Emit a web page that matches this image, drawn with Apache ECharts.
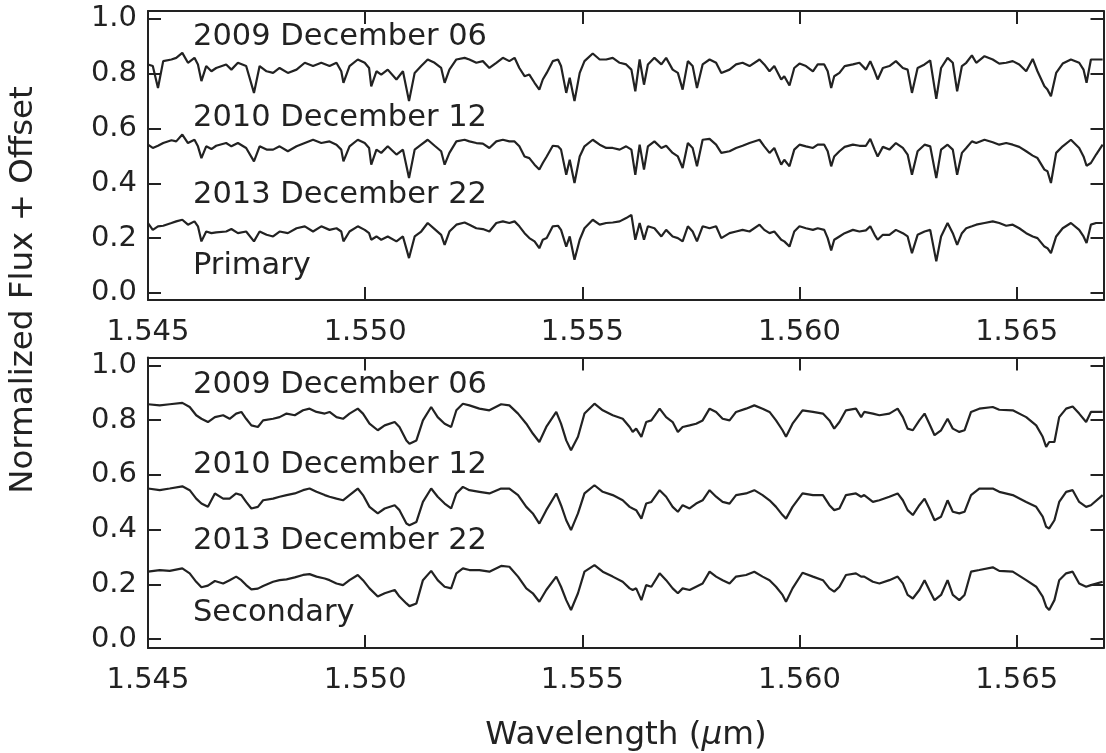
<!DOCTYPE html>
<html>
<head>
<meta charset="utf-8">
<title>spectra</title>
<script src="https://cdn.jsdelivr.net/npm/echarts@6/dist/echarts.min.js"></script>
<style>html,body{margin:0;padding:0;background:#fff;}</style>
</head>
<body>
<div id="main" style="width:1106px;height:753px;"></div>
<script>
// wavelength samples (micron), top panel (primary)
var topWave = [1.54500,1.54511,1.54523,1.54535,1.54554,1.54565,1.54579,1.54592,1.54607,1.54615,
1.54623,1.54634,1.54646,1.54657,1.54680,1.54692,1.54707,1.54726,1.54744,1.54757,
1.54773,1.54788,1.54803,1.54822,1.54842,1.54861,1.54880,1.54899,1.54918,1.54934,
1.54945,1.54950,1.54964,1.54983,1.54999,1.55009,1.55014,1.55026,1.55037,1.55052,
1.55072,1.55087,1.55101,1.55114,1.55129,1.55144,1.55160,1.55175,1.55183,1.55194,
1.55210,1.55229,1.55240,1.55256,1.55271,1.55286,1.55302,1.55317,1.55332,1.55344,
1.55355,1.55367,1.55378,1.55390,1.55401,1.55409,1.55418,1.55432,1.55444,1.55451,
1.55463,1.55471,1.55482,1.55494,1.55505,1.55524,1.55540,1.55555,1.55570,1.55586,
1.55601,1.55613,1.55622,1.55632,1.55642,1.55651,1.55666,1.55682,1.55693,1.55708,
1.55720,1.55731,1.55743,1.55754,1.55764,1.55777,1.55793,1.55808,1.55820,1.55839,
1.55854,1.55869,1.55885,1.55908,1.55919,1.55931,1.55942,1.55958,1.55965,1.55977,
1.55988,1.56000,1.56015,1.56031,1.56042,1.56057,1.56065,1.56073,1.56080,1.56092,
1.56104,1.56123,1.56138,1.56153,1.56163,1.56173,1.56180,1.56192,1.56207,1.56222,
1.56238,1.56249,1.56259,1.56272,1.56288,1.56301,1.56315,1.56326,1.56341,1.56353,
1.56363,1.56374,1.56384,1.56397,1.56407,1.56426,1.56445,1.56460,1.56476,1.56491,
1.56506,1.56522,1.56537,1.56548,1.56564,1.56571,1.56579,1.56591,1.56606,1.56625,
1.56644,1.56654,1.56661,1.56671,1.56683,1.56698];

var prim2009 = [.834,.828,.748,.846,.852,.858,.876,.840,.858,.834,
.773,.828,.809,.821,.834,.815,.840,.828,.730,.828,
.809,.803,.821,.803,.815,.840,.828,.840,.828,.840,
.809,.767,.828,.852,.840,.821,.754,.809,.797,.815,
.779,.809,.700,.803,.828,.852,.840,.821,.767,.815,
.852,.858,.852,.840,.846,.821,.840,.858,.846,.858,
.821,.791,.797,.767,.742,.779,.803,.846,.852,.828,
.730,.785,.700,.803,.846,.874,.852,.852,.858,.840,
.834,.815,.736,.852,.760,.834,.858,.834,.858,.815,
.803,.742,.846,.828,.748,.834,.852,.840,.803,.815,
.834,.840,.828,.852,.834,.809,.828,.779,.791,.757,
.821,.837,.828,.809,.834,.834,.809,.748,.791,.803,
.828,.834,.840,.815,.846,.809,.779,.821,.828,.846,
.821,.815,.730,.821,.834,.849,.708,.821,.858,.840,
.736,.828,.840,.867,.840,.864,.852,.837,.840,.846,
.834,.809,.854,.809,.754,.742,.718,.803,.837,.852,
.840,.815,.767,.852,.852,.852];

var prim2010 = [.541,.529,.537,.547,.557,.553,.578,.547,.559,.535,
.492,.535,.525,.537,.547,.535,.547,.529,.480,.535,
.523,.523,.535,.517,.535,.547,.559,.547,.553,.541,
.523,.480,.535,.559,.547,.529,.468,.523,.511,.535,
.505,.523,.419,.523,.541,.559,.537,.517,.468,.511,
.553,.559,.553,.547,.545,.529,.553,.559,.553,.553,
.535,.498,.492,.468,.450,.474,.498,.537,.535,.523,
.431,.486,.401,.498,.535,.559,.541,.529,.529,.523,
.535,.523,.431,.541,.450,.535,.553,.529,.537,.511,
.498,.456,.547,.529,.462,.559,.562,.541,.511,.517,
.529,.537,.547,.559,.535,.511,.529,.468,.486,.462,
.523,.541,.535,.529,.541,.541,.517,.462,.498,.517,
.533,.541,.537,.537,.562,.523,.498,.533,.523,.547,
.529,.505,.431,.517,.541,.535,.419,.523,.541,.523,
.431,.511,.529,.553,.547,.559,.550,.541,.547,.541,
.533,.517,.501,.492,.450,.444,.401,.511,.535,.559,
.529,.498,.464,.474,.505,.541];

var prim2013 = [.255,.230,.243,.245,.255,.261,.267,.249,.261,.243,
.188,.224,.218,.221,.224,.233,.218,.224,.188,.224,
.212,.206,.224,.218,.236,.243,.224,.243,.230,.236,
.224,.188,.224,.243,.230,.218,.194,.206,.194,.206,
.188,.206,.127,.206,.224,.255,.233,.212,.175,.224,
.249,.257,.249,.236,.233,.224,.255,.261,.255,.261,
.243,.218,.200,.188,.163,.194,.200,.243,.245,.230,
.169,.206,.121,.194,.236,.267,.249,.255,.257,.261,
.273,.285,.194,.255,.194,.243,.236,.206,.230,.206,
.200,.188,.243,.224,.188,.243,.236,.243,.200,.218,
.224,.230,.224,.249,.230,.218,.224,.194,.188,.169,
.224,.243,.236,.230,.236,.230,.200,.155,.194,.206,
.218,.230,.224,.228,.243,.212,.194,.212,.212,.230,
.218,.206,.145,.212,.224,.230,.115,.206,.255,.218,
.175,.218,.236,.243,.249,.255,.261,.255,.245,.249,
.236,.218,.206,.200,.169,.163,.145,.206,.236,.255,
.230,.206,.182,.249,.255,.255];

// wavelength samples (micron), bottom panel (secondary)
var botWave = [1.54500,1.54527,1.54550,1.54579,1.54596,1.54611,1.54623,1.54638,1.54654,1.54673,
1.54688,1.54703,1.54715,1.54726,1.54738,1.54753,1.54765,1.54788,1.54803,1.54819,
1.54838,1.54857,1.54872,1.54888,1.54907,1.54918,1.54934,1.54949,1.54964,1.54983,
1.54995,1.55010,1.55029,1.55045,1.55068,1.55079,1.55095,1.55102,1.55118,1.55133,
1.55152,1.55167,1.55183,1.55198,1.55210,1.55225,1.55240,
1.55263,1.55286,1.55313,1.55332,1.55352,1.55371,1.55386,1.55401,1.55417,1.55440,
1.55451,1.55463,1.55474,1.55490,1.55505,1.55528,1.55547,1.55570,1.55593,1.55609,
1.55616,1.55624,1.55636,1.55647,1.55659,1.55678,1.55693,1.55708,1.55720,1.55731,
1.55747,1.55762,1.55777,1.55793,1.55808,1.55823,1.55839,1.55854,1.55877,1.55896,
1.55915,1.55931,1.55946,1.55961,
1.55969,1.55984,1.56007,1.56031,1.56054,1.56069,1.56080,1.56092,1.56107,1.56130,
1.56142,1.56149,1.56169,1.56184,1.56207,1.56226,1.56238,1.56249,1.56261,1.56276,
1.56288,1.56299,1.56311,1.56326,1.56341,1.56353,1.56368,1.56380,1.56395,1.56414,
1.56445,1.56460,1.56491,1.56522,1.56545,1.56560,1.56568,1.56575,1.56587,1.56598,
1.56614,1.56629,1.56644,1.56660,1.56671,1.56698];

var sec2009 = [.858,.854,.858,.863,.848,.818,.805,.793,.811,.818,
.805,.824,.830,.805,.781,.775,.799,.805,.811,.824,
.818,.836,.842,.830,.824,.830,.811,.805,.824,.842,
.824,.787,.763,.781,.793,.775,.726,.714,.726,.799,
.848,.811,.787,.775,.836,.860,.854,
.842,.836,.858,.854,.824,.787,.751,.720,.775,.830,
.787,.726,.690,.739,.824,.860,.836,.818,.805,.775,
.757,.769,.739,.793,.799,.842,.811,.793,.757,.775,
.781,.787,.799,.842,.830,.805,.799,.830,.842,.854,
.842,.830,.799,.763,
.739,.787,.836,.830,.824,.799,.769,.793,.836,.842,
.811,.830,.824,.818,.824,.842,.811,.769,.763,.799,
.824,.787,.745,.763,.805,.769,.757,.763,.830,.842,
.848,.838,.836,.811,.781,.739,.702,.720,.720,.811,
.842,.850,.824,.793,.830,.830];

var sec2010 = [.550,.544,.550,.558,.544,.513,.495,.483,.532,.513,
.513,.532,.526,.501,.477,.483,.507,.513,.520,.526,
.532,.544,.550,.538,.526,.520,.513,.507,.526,.550,
.526,.483,.459,.477,.489,.471,.422,.416,.428,.501,
.550,.520,.495,.477,.532,.556,.544,
.538,.532,.550,.550,.526,.483,.459,.422,.471,.532,
.489,.434,.398,.459,.532,.562,.538,.526,.507,.483,
.477,.471,.440,.495,.501,.544,.520,.483,.465,.489,
.477,.495,.507,.544,.520,.501,.495,.526,.532,.544,
.526,.507,.483,.453,
.440,.483,.532,.526,.526,.489,.471,.477,.526,.532,
.520,.526,.501,.507,.520,.532,.507,.471,.453,.489,
.513,.477,.434,.447,.507,.465,.459,.465,.526,.550,
.550,.538,.526,.501,.483,.447,.410,.404,.434,.501,
.538,.544,.501,.483,.489,.526];

var sec2013 = [.246,.252,.249,.258,.240,.209,.189,.195,.212,.203,
.215,.228,.215,.197,.181,.184,.194,.209,.215,.218,
.225,.234,.237,.228,.221,.215,.203,.197,.215,.234,
.215,.185,.155,.167,.179,.155,.130,.120,.130,.215,
.249,.215,.191,.185,.240,.258,.252,
.252,.246,.267,.264,.228,.185,.167,.136,.179,.228,
.191,.142,.106,.167,.246,.270,.246,.228,.209,.185,
.179,.185,.142,.197,.191,.240,.215,.185,.167,.185,
.179,.191,.203,.246,.228,.215,.203,.228,.234,.246,
.228,.215,.191,.161,
.136,.185,.242,.228,.215,.185,.173,.191,.234,.240,
.228,.228,.209,.203,.215,.228,.203,.161,.148,.179,
.215,.179,.142,.161,.215,.161,.142,.161,.246,.252,
.262,.249,.246,.215,.191,.155,.118,.106,.142,.215,
.240,.246,.203,.191,.197,.209];

var xTicks = [1.545, 1.550, 1.555, 1.560, 1.565];
var yTicks = [0, 0.2, 0.4, 0.6, 0.8, 1.0];

var ink = '#222';
var font = 'DejaVu Sans';

function pairs(wave, flux) {
	return wave.map(function (w, i) { return [w, flux[i]]; });
}

function xAxisFor(g, pos) {
	return {
		type: 'value', gridIndex: g, position: pos,
		min: 1.545, max: 1.567,
		axisLine: { show: true, onZero: false, lineStyle: { color: ink, width: 2 } },
		axisTick: { show: true, inside: true, length: 13, customValues: xTicks, lineStyle: { color: ink, width: 2 } },
		axisLabel: {
			show: pos === 'bottom', customValues: xTicks, margin: 18,
			fontSize: 29, fontFamily: font, color: ink,
			formatter: function (v) { return v.toFixed(3); }
		},
		splitLine: { show: false }
	};
}

function yAxisFor(g, pos, lo, hi) {
	return {
		type: 'value', gridIndex: g, position: pos,
		min: lo, max: hi,
		axisLine: { show: true, onZero: false, lineStyle: { color: ink, width: 2 } },
		axisTick: { show: true, inside: true, length: 13, customValues: yTicks, lineStyle: { color: ink, width: 2 } },
		axisLabel: {
			show: pos === 'left', customValues: yTicks, margin: 11,
			fontSize: 29, fontFamily: font, color: ink,
			formatter: function (v) { return v.toFixed(1); }
		},
		splitLine: { show: false }
	};
}

function spec(name, g, wave, flux) {
	return {
		name: name, type: 'line', xAxisIndex: g * 2, yAxisIndex: g * 2,
		data: pairs(wave, flux), showSymbol: false, symbol: 'none',
		lineStyle: { color: ink, width: 2.2 }, silent: true, clip: true
	};
}

function label(text, x, y) {
	return {
		type: 'text', x: x, y: y,
		style: { text: text, fontSize: 30.5, fontFamily: font, fill: ink, align: 'left', verticalAlign: 'middle' }
	};
}

var chart = echarts.init(document.getElementById('main'));
chart.setOption({
	animation: false,
	backgroundColor: '#fff',
	grid: [
		{ left: 148, right: 2.5, top: 11, height: 289 },
		{ left: 148, right: 2.5, top: 357.5, height: 290.5 }
	],
	xAxis: [xAxisFor(0, 'bottom'), xAxisFor(0, 'top'), xAxisFor(1, 'bottom'), xAxisFor(1, 'top')],
	yAxis: [yAxisFor(0, 'left', -0.026, 1.029), yAxisFor(0, 'right', -0.026, 1.029),
		yAxisFor(1, 'left', -0.033, 1.029), yAxisFor(1, 'right', -0.033, 1.029)],
	series: [
		spec('P 2009', 0, topWave, prim2009),
		spec('P 2010', 0, topWave, prim2010),
		spec('P 2013', 0, topWave, prim2013),
		spec('S 2009', 1, botWave, sec2009),
		spec('S 2010', 1, botWave, sec2010),
		spec('S 2013', 1, botWave, sec2013)
	],
	graphic: [
		label('2009 December 06', 193, 37),
		label('2010 December 12', 193, 118),
		label('2013 December 22', 193, 195),
		label('Primary', 193, 266),
		label('2009 December 06', 193, 385),
		label('2010 December 12', 193, 465),
		label('2013 December 22', 193, 541),
		label('Secondary', 193, 613),
		{
			type: 'text', x: 24, y: 290, rotation: Math.PI / 2,
			style: { text: 'Normalized Flux + Offset', fontSize: 32.5, fontFamily: font, fill: ink, align: 'center', verticalAlign: 'middle' }
		},
		{
			type: 'text', x: 626, y: 736,
			style: {
				text: '{a|Wavelength (}{i|μ}{a|m)}', align: 'center', verticalAlign: 'middle',
				rich: {
					a: { fontSize: 32.6, fontFamily: font, fill: ink },
					i: { fontSize: 32.6, fontFamily: font, fontStyle: 'italic', fill: ink }
				}
			}
		}
	]
});
</script>
</body>
</html>
